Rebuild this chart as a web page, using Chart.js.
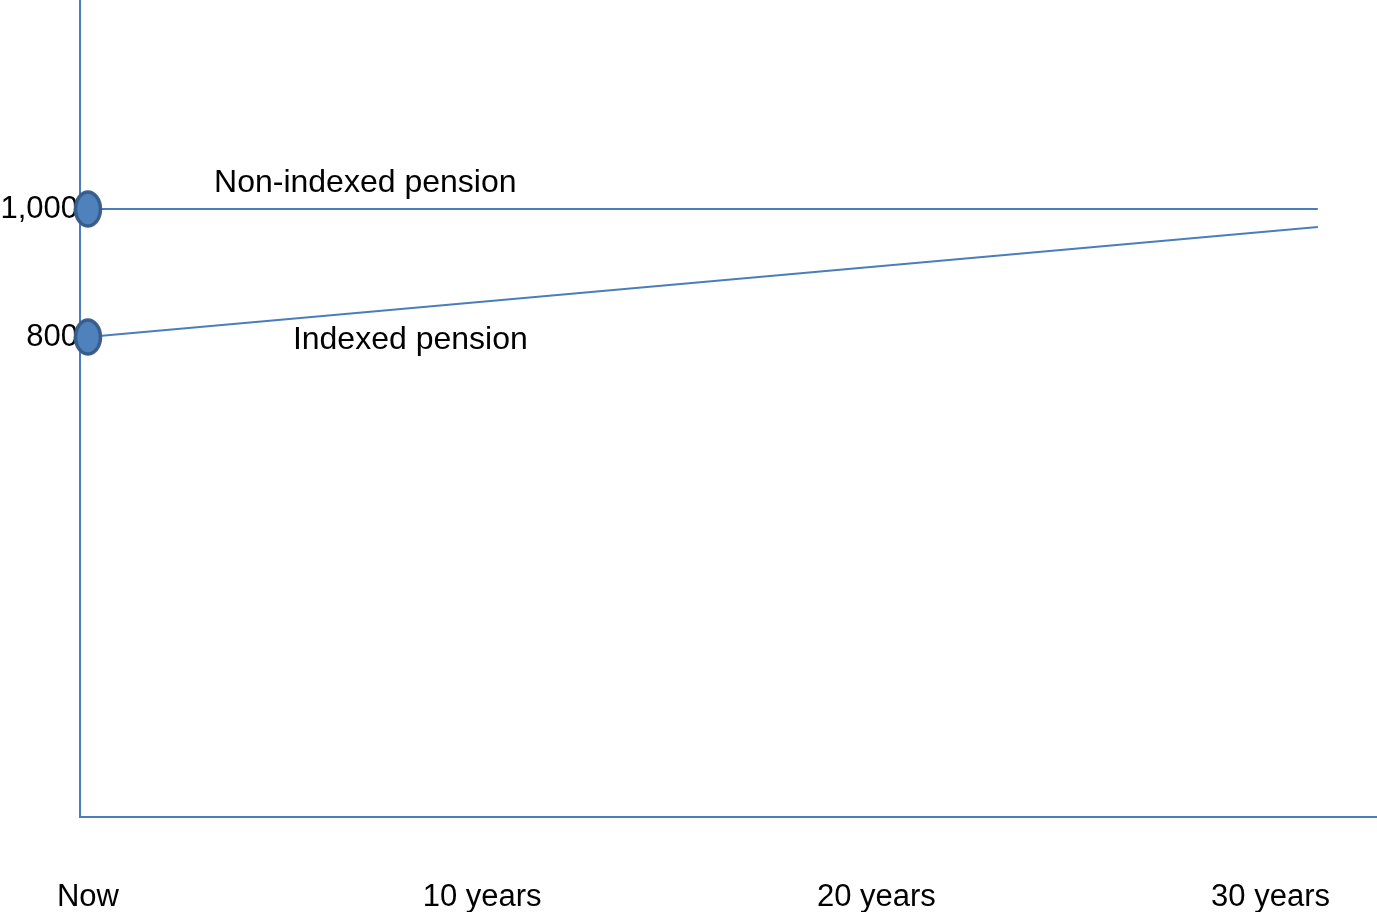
<!DOCTYPE html>
<html>
<head>
<meta charset="utf-8">
<script src="https://cdn.jsdelivr.net/npm/chart.js@4"></script>
<style>
  html, body { margin: 0; padding: 0; background: #fff; }
  #wrap { width: 1377px; height: 912px; position: relative; }
</style>
</head>
<body>
<div id="wrap"><canvas id="pensionChart"></canvas></div>
<script>
// data
var xTickValues = [0, 10, 20, 30];
var xTickLabels = ["Now", "10 years", "20 years", "30 years"];
var yTickValues = [800, 1000];

var years = [0, 31.2];
var nonIndexed = [1000, 1000];
var indexed = [800, 972];

var notes = ["Non-indexed pension", "Indexed pension"];
var noteX = [3.2, 5.2];
var noteY = [1040, 795];

var blue = "#4A7EBB";
var fontFamily = "'Liberation Sans', Arial, sans-serif";

// oval marker like in the original drawing
function makeOval() {
    var c = document.createElement('canvas');
    c.width = 32;
    c.height = 40;
    var g = c.getContext('2d');
    g.beginPath();
    g.ellipse(16, 20, 12.5, 17, 0, 0, Math.PI * 2);
    g.fillStyle = "#4F81BD";
    g.fill();
    g.lineWidth = 3.5;
    g.strokeStyle = "#385D8A";
    g.stroke();
    return c;
}
var oval = makeOval();

var notesPlugin = {
    id: 'notes',
    afterDatasetsDraw: function(chart) {
        var ctx = chart.ctx;
        var xs = chart.scales.x, ys = chart.scales.y;
        ctx.save();
        ctx.font = "32px " + fontFamily;
        ctx.fillStyle = "#000";
        ctx.textAlign = "left";
        ctx.textBaseline = "middle";
        for (var i = 0; i < notes.length; i++) {
            ctx.fillText(notes[i], xs.getPixelForValue(noteX[i]), ys.getPixelForValue(noteY[i]));
        }
        ctx.restore();
    }
};

function noPadding(scale) {
    scale.paddingLeft = 0;
    scale.paddingRight = 0;
    scale.paddingTop = 0;
    scale.paddingBottom = 0;
}

function series(values, label) {
    return {
        label: label,
        data: years.map(function(x, i) { return {x: x, y: values[i]}; }),
        borderColor: blue,
        borderWidth: 2,
        fill: false,
        tension: 0,
        clip: false,
        pointStyle: [oval, false],
        pointRadius: [16, 0],
        pointHoverRadius: [16, 0]
    };
}

var ctx = document.getElementById('pensionChart').getContext('2d');

var pensionChart = new Chart(ctx, {
    type: 'line',
    data: {
        datasets: [
            series(nonIndexed, "Non-indexed pension"),
            series(indexed, "Indexed pension")
        ]
    },
    plugins: [notesPlugin],
    options: {
        responsive: true,
        maintainAspectRatio: false,
        animation: false,
        events: [],
        layout: { padding: 0, autoPadding: false },
        plugins: {
            legend: { display: false },
            tooltip: { enabled: false }
        },
        scales: {
            x: {
                type: 'linear',
                min: -0.2,
                max: 32.7,
                grid: { drawOnChartArea: false, drawTicks: false },
                border: { display: true, color: blue, width: 2 },
                afterBuildTicks: function(scale) {
                    scale.ticks = xTickValues.map(function(v) { return {value: v}; });
                },
                afterFit: function(scale) {
                    scale.height = 95;
                    noPadding(scale);
                },
                ticks: {
                    autoSkip: false,
                    maxRotation: 0,
                    padding: 62,
                    color: "#000",
                    font: { size: 31, family: fontFamily },
                    callback: function(value) {
                        var i = xTickValues.indexOf(value);
                        return i >= 0 ? xTickLabels[i] : "";
                    }
                }
            },
            y: {
                type: 'linear',
                min: 50,
                max: 1326.6,
                grid: { drawOnChartArea: false, drawTicks: false },
                border: { display: true, color: blue, width: 2 },
                afterBuildTicks: function(scale) {
                    scale.ticks = yTickValues.map(function(v) { return {value: v}; });
                },
                afterFit: function(scale) {
                    scale.width = 80;
                    noPadding(scale);
                },
                ticks: {
                    padding: 2,
                    color: "#000",
                    font: { size: 31, family: fontFamily },
                    callback: function(value) {
                        return value.toLocaleString('en-US');
                    }
                }
            }
        }
    }
});
</script>
</body>
</html>
